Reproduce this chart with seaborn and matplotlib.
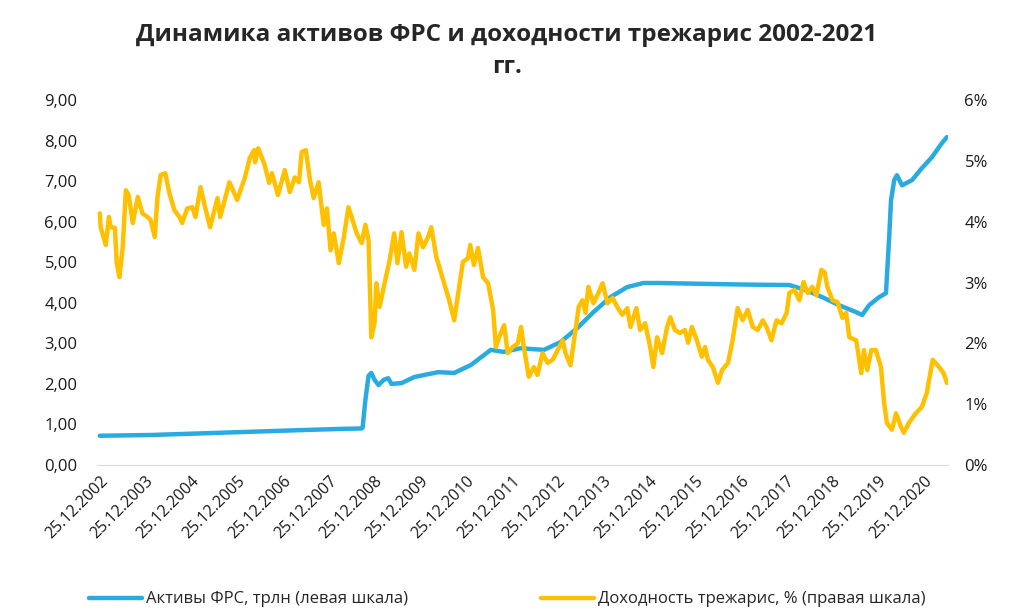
import numpy as np
import pandas as pd
import seaborn as sns
import matplotlib.pyplot as plt
from matplotlib.ticker import FuncFormatter

# Fed assets, trillion USD (decimal year, value)
assets_year = [2002.98, 2004.13, 2005.22, 2006.31, 2007.39, 2008.26, 2008.70, 2008.72, 2008.78,
               2008.85, 2008.91, 2008.98, 2009.07, 2009.18, 2009.28, 2009.35, 2009.57, 2009.85,
               2010.37, 2010.72, 2011.09, 2011.52, 2011.80, 2012.17, 2012.68, 2013.04, 2013.41,
               2013.76, 2014.13, 2014.50, 2014.85, 2015.22, 2016.09, 2017.18, 2018.04, 2018.41,
               2018.76, 2019.13, 2019.50, 2019.63, 2019.78, 2020.00, 2020.15, 2020.22, 2020.26,
               2020.33, 2020.39, 2020.50, 2020.72, 2020.93, 2021.15, 2021.37, 2021.48]
assets_val = [0.72, 0.74, 0.78, 0.82, 0.86, 0.89, 0.90, 0.92, 1.60,
              2.20, 2.27, 2.10, 1.97, 2.10, 2.14, 2.00, 2.02, 2.17,
              2.29, 2.27, 2.47, 2.84, 2.79, 2.88, 2.84, 3.03, 3.38,
              3.77, 4.14, 4.39, 4.49, 4.49, 4.47, 4.45, 4.44, 4.31,
              4.14, 3.94, 3.77, 3.70, 3.94, 4.14, 4.24, 5.62, 6.53,
              7.03, 7.15, 6.90, 7.03, 7.32, 7.59, 7.94, 8.09]

# 10y treasury yield, % (decimal year, value)
yield_year = [2002.98, 2003.00, 2003.11, 2003.18, 2003.22, 2003.31, 2003.35, 2003.41, 2003.48, 2003.55,
              2003.61, 2003.70, 2003.81, 2003.91, 2004.02, 2004.09, 2004.18, 2004.24, 2004.31, 2004.41,
              2004.50, 2004.61, 2004.72, 2004.78, 2004.89, 2005.00, 2005.07, 2005.18, 2005.28, 2005.39,
              2005.55, 2005.61, 2005.81, 2005.87, 2005.98, 2006.09, 2006.15, 2006.26, 2006.35, 2006.37,
              2006.44, 2006.57, 2006.68, 2006.74, 2006.87, 2007.02, 2007.13, 2007.24, 2007.33, 2007.39,
              2007.48, 2007.57, 2007.65, 2007.76, 2007.87, 2007.94, 2008.02, 2008.09, 2008.20, 2008.31,
              2008.41, 2008.48, 2008.59, 2008.70, 2008.78, 2008.85, 2008.91, 2008.98, 2009.02, 2009.09,
              2009.20, 2009.31, 2009.41, 2009.48, 2009.57, 2009.67, 2009.74, 2009.85, 2009.94, 2010.04,
              2010.15, 2010.22, 2010.33, 2010.48, 2010.61, 2010.72, 2010.83, 2010.91, 2011.02, 2011.07,
              2011.15, 2011.24, 2011.35, 2011.46, 2011.57, 2011.63, 2011.70, 2011.81, 2011.89, 2012.00,
              2012.11, 2012.18, 2012.24, 2012.35, 2012.46, 2012.54, 2012.65, 2012.76, 2012.87, 2012.98,
              2013.09, 2013.15, 2013.26, 2013.37, 2013.44, 2013.52, 2013.59, 2013.65, 2013.76, 2013.87,
              2013.96, 2014.07, 2014.18, 2014.28, 2014.39, 2014.50, 2014.57, 2014.70, 2014.78, 2014.89,
              2015.00, 2015.07, 2015.15, 2015.26, 2015.37, 2015.44, 2015.54, 2015.65, 2015.76, 2015.83,
              2015.91, 2016.02, 2016.13, 2016.20, 2016.26, 2016.37, 2016.48, 2016.57, 2016.70, 2016.80,
              2016.91, 2017.02, 2017.13, 2017.24, 2017.35, 2017.46, 2017.54, 2017.65, 2017.76, 2017.87,
              2017.98, 2018.04, 2018.15, 2018.26, 2018.35, 2018.44, 2018.54, 2018.63, 2018.74, 2018.81,
              2018.87, 2018.98, 2019.09, 2019.20, 2019.28, 2019.35, 2019.50, 2019.61, 2019.67, 2019.74,
              2019.83, 2019.93, 2020.04, 2020.11, 2020.17, 2020.28, 2020.37, 2020.48, 2020.54, 2020.65,
              2020.80, 2020.93, 2021.04, 2021.17, 2021.31, 2021.41, 2021.48]
yield_val = [4.14, 3.91, 3.62, 4.08, 3.91, 3.90, 3.32, 3.09, 3.58, 4.52,
             4.44, 3.98, 4.41, 4.14, 4.08, 4.03, 3.75, 4.41, 4.77, 4.80,
             4.47, 4.19, 4.08, 3.98, 4.22, 4.24, 4.08, 4.57, 4.24, 3.91,
             4.39, 4.08, 4.65, 4.55, 4.36, 4.60, 4.73, 5.06, 5.18, 4.98,
             5.21, 4.96, 4.64, 4.80, 4.44, 4.85, 4.49, 4.73, 4.65, 5.15,
             5.18, 4.69, 4.39, 4.65, 3.95, 4.22, 3.53, 3.81, 3.32, 3.75,
             4.24, 4.08, 3.81, 3.65, 3.95, 3.70, 2.10, 2.33, 2.99, 2.60,
             2.99, 3.37, 3.81, 3.32, 3.83, 3.26, 3.48, 3.21, 3.81, 3.58,
             3.75, 3.91, 3.42, 3.04, 2.71, 2.38, 2.93, 3.34, 3.40, 3.62,
             3.29, 3.57, 3.09, 2.99, 2.55, 1.94, 2.10, 2.30, 1.84, 1.94,
             2.00, 2.27, 1.94, 1.45, 1.61, 1.48, 1.84, 1.68, 1.73, 1.89,
             2.05, 1.84, 1.64, 2.22, 2.60, 2.71, 2.50, 2.93, 2.66, 2.83,
             2.99, 2.66, 2.75, 2.60, 2.47, 2.58, 2.27, 2.58, 2.22, 2.33,
             1.94, 1.61, 2.10, 1.84, 2.27, 2.43, 2.22, 2.17, 2.22, 2.01,
             2.27, 2.05, 1.78, 1.94, 1.73, 1.61, 1.35, 1.56, 1.68, 2.05,
             2.58, 2.38, 2.55, 2.27, 2.22, 2.38, 2.27, 2.05, 2.38, 2.33,
             2.50, 2.83, 2.88, 2.71, 3.01, 2.83, 2.93, 2.79, 3.21, 3.17,
             2.93, 2.71, 2.68, 2.42, 2.50, 2.10, 2.05, 1.51, 1.89, 1.56,
             1.89, 1.89, 1.61, 1.02, 0.69, 0.58, 0.85, 0.62, 0.53, 0.69,
             0.85, 0.95, 1.18, 1.73, 1.61, 1.51, 1.35]

tick_years = [2002.98 + k for k in range(19)]
tick_labels = ["25.12.%d" % (2002 + k) for k in range(19)]

title = "Динамика активов ФРС и доходности трежарис 2002-2021\nгг."
lbl_assets = "Активы ФРС, трлн (левая шкала)"
lbl_yield = "Доходность трежарис, % (правая шкала)"

assets = pd.DataFrame({"x": assets_year, "y": assets_val})
yields = pd.DataFrame({"x": yield_year, "y": yield_val})

sns.set_style("white")
plt.rcParams['font.family'] = ['Open Sans', 'DejaVu Sans']

fig = plt.figure(figsize=(10.14, 6.15), dpi=100)
ax = fig.add_axes([0.0957, 0.244, 0.839, 0.593])
ax2 = ax.twinx()

blue = "#29ABE2"
gold = "#FFC000"
sns.lineplot(data=assets, x="x", y="y", ax=ax, color=blue, linewidth=3.2, label=lbl_assets, legend=False)
sns.lineplot(data=yields, x="x", y="y", ax=ax2, color=gold, linewidth=3.2, label=lbl_yield, legend=False)

ax.set_xlim(2002.92, 2021.5)
ax.set_ylim(0, 9)
ax2.set_ylim(0, 6)
ax.set_yticks(np.arange(0, 10, 1))
ax2.set_yticks(np.arange(0, 7, 1))
ax.yaxis.set_major_formatter(FuncFormatter(lambda v, p: ("%.2f" % v).replace(".", ",")))
ax2.yaxis.set_major_formatter(FuncFormatter(lambda v, p: "%d%%" % v))
ax.set_xticks(tick_years)
ax.set_xticklabels(tick_labels, rotation=45, ha="right", rotation_mode="anchor")
ax.set_xlabel("")
ax.set_ylabel("")
ax2.set_ylabel("")

for a in (ax, ax2):
    for s in a.spines.values():
        s.set_visible(False)
    a.tick_params(length=0, labelsize=12, colors="#1a1a1a")
ax.spines["bottom"].set_visible(True)
ax.spines["bottom"].set_color("#d9d9d9")
ax.tick_params(axis="x", labelsize=11.5, pad=6)
ax.tick_params(axis="y", pad=14)
ax2.tick_params(axis="y", pad=12)

fig.text(0.5, 0.963, title, ha="center", va="top", fontsize=17.5, fontweight="bold",
         linespacing=1.45)

h1, l1 = ax.get_legend_handles_labels()
h2, l2 = ax2.get_legend_handles_labels()
fig.legend(h1 + h2, l1 + l2, loc="lower center", bbox_to_anchor=(0.5, -0.012), ncol=2,
           frameon=False, fontsize=12, handlelength=3.2, handletextpad=0.2, columnspacing=8)

fig.savefig("out.png", dpi=100)
